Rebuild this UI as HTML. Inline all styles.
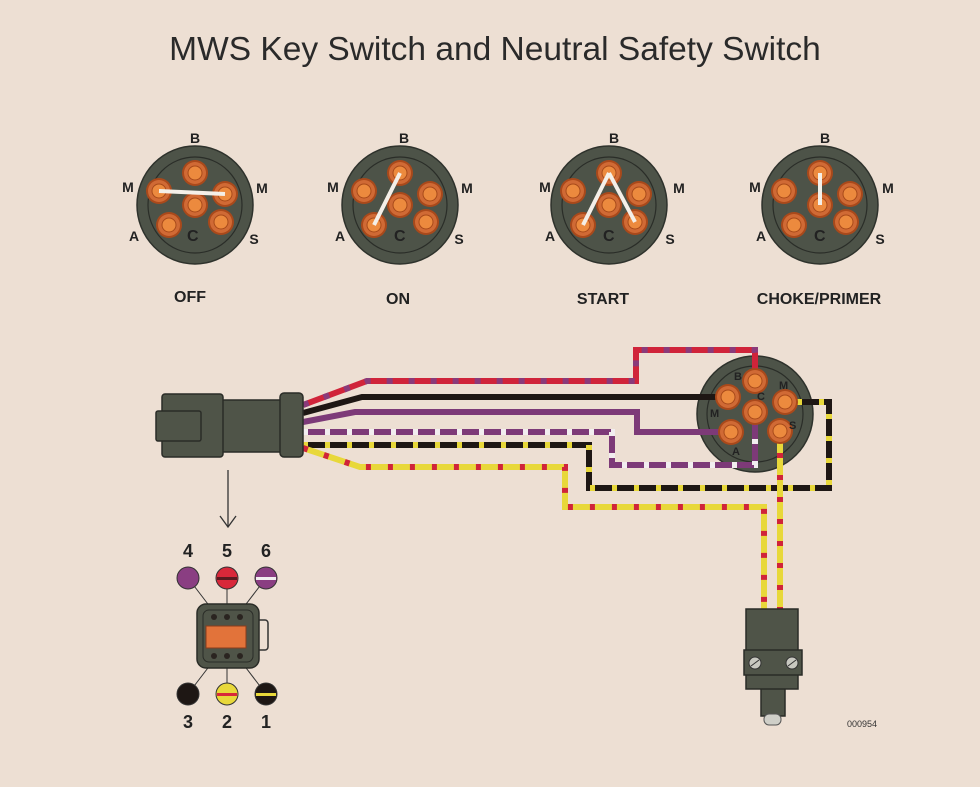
<!DOCTYPE html>
<html><head><meta charset="utf-8"><style>
html,body{margin:0;padding:0;background:#eddfd3;}
svg{display:block;font-family:"Liberation Sans",Arial,sans-serif;}
</style></head><body>
<svg width="980" height="787" viewBox="0 0 980 787" xmlns="http://www.w3.org/2000/svg">
<defs>
<g id="pin"><circle r="13" fill="#a9491b"/><circle r="11" fill="#d06a35"/><circle r="7" fill="#ec8a3e" stroke="#a84a1a" stroke-width="1"/></g>
<g id="sw">
<ellipse cx="0" cy="0" rx="58" ry="59" fill="#4d5348" stroke="#2e322c" stroke-width="1.5"/>
<ellipse cx="0" cy="0" rx="47" ry="48" fill="none" stroke="#2a2d28" stroke-width="1.2"/>
<use href="#pin" x="0" y="-32"/><use href="#pin" x="-36" y="-14"/><use href="#pin" x="30" y="-11"/>
<use href="#pin" x="0" y="0"/><use href="#pin" x="-26" y="20"/><use href="#pin" x="26" y="17"/>
</g>
</defs>
<rect width="980" height="787" fill="#eddfd3"/>
<text x="495" y="60" font-size="33.5" text-anchor="middle" fill="#2a2a2a">MWS Key Switch and Neutral Safety Switch</text>

<g font-weight="bold" font-size="14" fill="#222">
<g transform="translate(195,205)"><use href="#sw"/><text x="-8" y="36" font-size="16" fill="#222">C</text>
<line x1="-36" y1="-14" x2="30" y2="-11" stroke="#f4efe8" stroke-width="4"/></g>
<text x="195" y="143" text-anchor="middle">B</text><text x="128" y="192" text-anchor="middle">M</text><text x="262" y="193" text-anchor="middle">M</text><text x="134" y="241" text-anchor="middle">A</text><text x="254" y="244" text-anchor="middle">S</text>
<text x="190" y="302" text-anchor="middle" font-size="16">OFF</text>
<g transform="translate(400,205)"><use href="#sw"/><text x="-6" y="36" font-size="16" fill="#222">C</text>
<line x1="0" y1="-32" x2="-26" y2="20" stroke="#f4efe8" stroke-width="4"/></g>
<text x="404" y="143" text-anchor="middle">B</text><text x="333" y="192" text-anchor="middle">M</text><text x="467" y="193" text-anchor="middle">M</text><text x="340" y="241" text-anchor="middle">A</text><text x="459" y="244" text-anchor="middle">S</text>
<text x="398" y="304" text-anchor="middle" font-size="16">ON</text>
<g transform="translate(609,205)"><use href="#sw"/><text x="-6" y="36" font-size="16" fill="#222">C</text>
<line x1="0" y1="-32" x2="-26" y2="20" stroke="#f4efe8" stroke-width="4"/><line x1="0" y1="-32" x2="26" y2="17" stroke="#f4efe8" stroke-width="4"/></g>
<text x="614" y="143" text-anchor="middle">B</text><text x="545" y="192" text-anchor="middle">M</text><text x="679" y="193" text-anchor="middle">M</text><text x="550" y="241" text-anchor="middle">A</text><text x="670" y="244" text-anchor="middle">S</text>
<text x="603" y="304" text-anchor="middle" font-size="16">START</text>
<g transform="translate(820,205)"><use href="#sw"/><text x="-6" y="36" font-size="16" fill="#222">C</text>
<line x1="0" y1="-32" x2="0" y2="0" stroke="#f4efe8" stroke-width="4"/></g>
<text x="825" y="143" text-anchor="middle">B</text><text x="755" y="192" text-anchor="middle">M</text><text x="888" y="193" text-anchor="middle">M</text><text x="761" y="241" text-anchor="middle">A</text><text x="880" y="244" text-anchor="middle">S</text>
<text x="819" y="304" text-anchor="middle" font-size="16">CHOKE/PRIMER</text>
</g>

<circle cx="755" cy="414" r="58" fill="#4d5348" stroke="#2e322c" stroke-width="1.5"/>
<circle cx="755" cy="414" r="48" fill="none" stroke="#2a2d28" stroke-width="1.2"/>

<g fill="none" stroke-width="6" stroke-linejoin="miter">
<path d="M303,405 L367,381 L636,381 L636,350 L755,350 L755,381" stroke="#d0243a"/>
<path d="M303,405 L367,381 L636,381 L636,350 L755,350 L755,381" stroke="#8a3a7a" stroke-dasharray="6 16"/>
<path d="M303,413 L362,397 L728,397" stroke="#1e1714"/>
<path d="M303,422 L355,412 L637,412 L637,432 L731,432" stroke="#7d3a78"/>
<path d="M303,432 L612,432 L612,465 L755,465 L755,412" stroke="#7d3a78"/>
<path d="M303,432 L612,432 L612,465 L755,465 L755,412" stroke="#f2eef0" stroke-dasharray="5 17"/>
<path d="M303,445 L589,445 L589,488 L829,488 L829,402 L785,402" stroke="#1e1714"/>
<path d="M303,445 L589,445 L589,488 L829,488 L829,402 L785,402" stroke="#e8d83a" stroke-dasharray="5 17"/>
<path d="M303,448 L360,467 L565,467 L565,507 L764,507 L764,612" stroke="#e8d83a"/>
<path d="M303,448 L360,467 L565,467 L565,507 L764,507 L764,612" stroke="#d0243a" stroke-dasharray="5 17"/>
<path d="M780,431 L780,612" stroke="#e8d83a"/>
<path d="M780,431 L780,612" stroke="#d0243a" stroke-dasharray="5 17"/>
</g>

<use href="#pin" x="755" y="381"/><use href="#pin" x="728" y="397"/><use href="#pin" x="785" y="402"/>
<use href="#pin" x="755" y="412"/><use href="#pin" x="731" y="432"/><use href="#pin" x="780" y="431"/>
<g font-size="11" font-weight="bold" fill="#222">
<text x="734" y="380">B</text><text x="779" y="389">M</text><text x="710" y="417">M</text><text x="757" y="400">C</text><text x="732" y="455">A</text><text x="789" y="429">S</text>
</g>

<g fill="#4f5448" stroke="#2a2c27" stroke-width="1.5">
<rect x="222" y="400" width="62" height="52"/>
<rect x="162" y="394" width="61" height="63" rx="3"/>
<rect x="156" y="411" width="45" height="30" rx="2"/>
<rect x="280" y="393" width="23" height="64" rx="4"/>
</g>
<line x1="228" y1="470" x2="228" y2="526" stroke="#333" stroke-width="1.3"/>
<path d="M220,516 L228,527 L236,516" fill="none" stroke="#333" stroke-width="1.3"/>

<g stroke="#333" stroke-width="1">
<line x1="188" y1="578" x2="214" y2="612"/><line x1="227" y1="578" x2="227" y2="612"/><line x1="266" y1="578" x2="240" y2="612"/>
<line x1="188" y1="694" x2="214" y2="660"/><line x1="227" y1="694" x2="227" y2="660"/><line x1="266" y1="694" x2="240" y2="660"/>
</g>
<rect x="256" y="620" width="12" height="30" rx="3" fill="#eddfd3" stroke="#333" stroke-width="1.5"/>
<rect x="197" y="604" width="62" height="64" rx="9" fill="#4f5448" stroke="#2a2c27" stroke-width="1.5"/>
<rect x="203" y="610" width="50" height="52" rx="6" fill="none" stroke="#2a2c27" stroke-width="1"/>
<rect x="206" y="626" width="40" height="22" fill="#e2733a" stroke="#8a3b1b"/>
<g fill="#2a2420"><circle cx="214" cy="617" r="3"/><circle cx="227" cy="617" r="3"/><circle cx="240" cy="617" r="3"/><circle cx="214" cy="656" r="3"/><circle cx="227" cy="656" r="3"/><circle cx="240" cy="656" r="3"/></g>
<g stroke="#333" stroke-width="1">
<circle cx="188" cy="578" r="11" fill="#8a3e82"/>
<circle cx="227" cy="578" r="11" fill="#d8283a"/>
<circle cx="266" cy="578" r="11" fill="#8a3e82"/>
<circle cx="188" cy="694" r="11" fill="#1e1714"/>
<circle cx="227" cy="694" r="11" fill="#e8d83a"/>
<circle cx="266" cy="694" r="11" fill="#1e1714"/>
</g>
<rect x="217" y="577" width="20" height="3" fill="#5a1a20"/>
<rect x="256" y="577" width="20" height="3" fill="#f2eef0"/>
<rect x="217" y="693" width="20" height="3" fill="#d8283a"/>
<rect x="256" y="693" width="20" height="3" fill="#e8d83a"/>
<g font-size="18" font-weight="bold" fill="#222" text-anchor="middle">
<text x="188" y="557">4</text><text x="227" y="557">5</text><text x="266" y="557">6</text>
<text x="188" y="728">3</text><text x="227" y="728">2</text><text x="266" y="728">1</text>
</g>

<rect x="761" y="688" width="24" height="28" fill="#4f5448" stroke="#2a2c27" stroke-width="1.5"/>
<rect x="764" y="714" width="17" height="11" rx="5" fill="#cfcfc8" stroke="#555"/>
<rect x="746" y="609" width="52" height="80" fill="#4f5448" stroke="#2a2c27" stroke-width="1.5"/>
<rect x="744" y="650" width="58" height="25" fill="#4f5448" stroke="#2a2c27" stroke-width="1.5"/>
<circle cx="755" cy="663" r="6" fill="#c8c8c0" stroke="#333"/><line x1="751" y1="666" x2="759" y2="660" stroke="#333"/>
<circle cx="792" cy="663" r="6" fill="#c8c8c0" stroke="#333"/><line x1="788" y1="666" x2="796" y2="660" stroke="#333"/>

<text x="862" y="727" font-size="9" fill="#333" text-anchor="middle">000954</text>
</svg>
</body></html>
